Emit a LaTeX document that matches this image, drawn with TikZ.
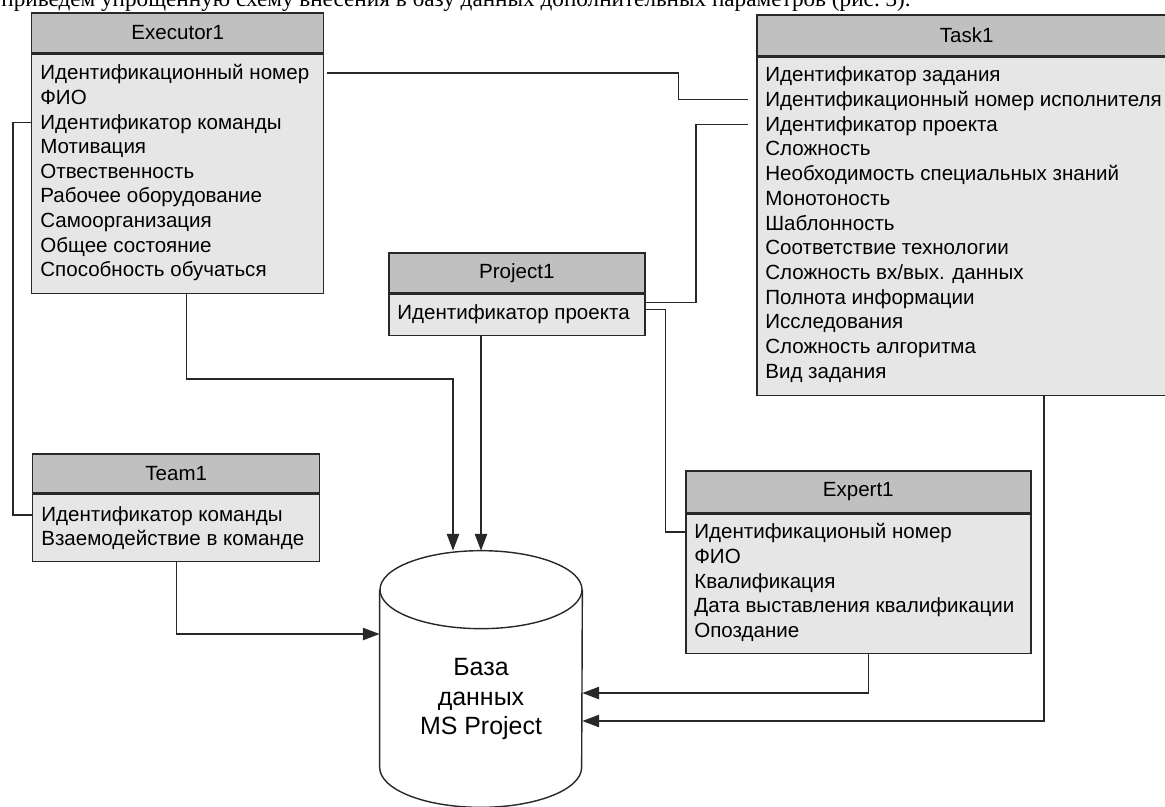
\documentclass[tikz,border=0pt]{standalone}
\usepackage{fontspec}
\setmainfont{Liberation Sans}
\newfontfamily\bodyserif{Liberation Serif}
\usetikzlibrary{calc,arrows.meta}
\newlength{\unitpx}\setlength{\unitpx}{0.02cm}

\begin{document}
\begin{tikzpicture}[x=0.02cm, y=-0.02cm,
    every node/.style={font=\fontsize{11.7}{14}\selectfont},
    entityhead/.style={draw=outline, fill=headfill, line width=0.85pt, inner sep=0pt, anchor=north west},
    entitybody/.style={draw=outline, fill=bodyfill, line width=0.85pt, inner sep=0pt, anchor=north},
    field/.style={anchor=west, inner sep=0pt, text height=8.8pt, text depth=1pt},
    wire/.style={draw=outline, line width=0.8pt},
    feed/.style={wire, -{Triangle[length=9.5pt, width=7pt]}}]
        \definecolor{headfill}{RGB}{192,192,192}
        \definecolor{bodyfill}{RGB}{230,230,230}
        \definecolor{outline}{RGB}{40,40,40}
        \useasboundingbox (0,0) rectangle (1165,806);
        \clip (0,0) rectangle (1165,806);
        % line of the page text above the figure
        \node[anchor=base west, inner sep=0pt, font=\bodyserif\fontsize{13.2}{15}\selectfont] (pagetext) at (1,6)
          {приведем упрощенную схему внесения в базу данных дополнительных параметров (рис.~3).};
        % Executor1
        \node[entityhead, minimum width=292\unitpx, minimum height=40\unitpx] (exh) at (31,12) {Executor1};
        \node[entitybody, minimum width=292\unitpx, minimum height=239\unitpx] (exb) at (exh.south) {};
        \foreach \f [count=\i] in {Идентификационный номер, ФИО, Идентификатор команды, Мотивация,
            Отвественность, Рабочее оборудование, Самоорганизация, Общее состояние, Способность обучаться}
          \node[field] (ex\i) at (40,{73+24.6*(\i-1)}) {\f};
        % Task1
        \node[entityhead, minimum width=420\unitpx, minimum height=41\unitpx] (tkh) at (756,14) {Task1};
        \node[entitybody, minimum width=420\unitpx, minimum height=338\unitpx] (tkb) at (tkh.south) {};
        \foreach \f [count=\i] in {Идентификатор задания, Идентификационный номер исполнителя,
            Идентификатор проекта, Сложность, Необходимость специальных знаний, Монотоность,
            Шаблонность, Соответствие технологии, Сложность вх/вых. данных, Полнота информации,
            Исследования, Сложность алгоритма, Вид задания}
          \node[field] (tk\i) at (765,{75+24.7*(\i-1)}) {\f};
        % Project1
        \node[entityhead, minimum width=256\unitpx, minimum height=40\unitpx] (prh) at (388,252) {Project1};
        \node[entitybody, minimum width=256\unitpx, minimum height=41\unitpx] (prb) at (prh.south) {};
        \node[field] (pr1) at (397,313) {Идентификатор проекта};
        % Team1
        \node[entityhead, minimum width=287\unitpx, minimum height=39\unitpx] (tmh) at (32,453) {Team1};
        \node[entitybody, minimum width=287\unitpx, minimum height=67\unitpx] (tmb) at (tmh.south) {};
        \foreach \f [count=\i] in {Идентификатор команды, Взаемодействие в команде}
          \node[field] (tm\i) at (41,{515+24*(\i-1)}) {\f};
        % Expert1
        \node[entityhead, minimum width=345\unitpx, minimum height=42\unitpx] (xph) at (685,470) {Expert1};
        \node[entitybody, minimum width=345\unitpx, minimum height=139\unitpx] (xpb) at (xph.south) {};
        \foreach \f [count=\i] in {Идентификационый номер, ФИО, Квалификация,
            Дата выставления квалификации, Опоздание}
          \node[field] (xp\i) at (694,{532+24.6*(\i-1)}) {\f};
        % database
        \node[minimum width=202\unitpx, minimum height=256\unitpx, inner sep=0pt] (db) at (481,679) {};
        \draw[wire, fill=white] ($(db.north west)+(0,39)$) -- ($(db.south west)+(0,-40)$)
          arc[start angle=180, end angle=360, x radius=101\unitpx, y radius=40\unitpx]
          -- ($(db.north east)+(0,39)$);
        \draw[wire, fill=white] ($(db.north)+(0,39)$) ellipse [x radius=101\unitpx, y radius=39\unitpx];
        \node[align=center, font=\fontsize{14.2}{16.8}\selectfont] (dbtext) at (481,699) {База\\данных\\MS Project};
        % links between the tables
        \draw[wire, shorten <=1.7pt, shorten >=4.5pt] (ex1 -| exb.east) -- ++(354,0) |- (tk2 -| tkb.west);
        \draw[wire] (ex3 -| exb.west) -- ++(-18,0) |- (tm1 -| tmb.west);
        \draw[wire, shorten <=4.5pt] (tk3 -| tkb.west) -- ++(-60,0) |- ($(prb.east)+(0,-12)$);
        \draw[wire] ($(prb.east)+(0,-5)$) -- ++(20,0) |- (xp1 -| xpb.west);
        % flows into the database
        \draw[feed] ($(exb.south)+(9,0)$) -- ++(0,85) -| ($(db.north)+(-28,0)$);
        \draw[feed] (prb.south -| db.north) -- (db.north);
        \draw[feed] (tmb.south) |- ($(db.west)+(0,-45)$);
        \draw[feed] ($(xpb.south)+(10,0)$) |- ($(db.east)+(0,14)$);
        \draw[feed] ($(tkb.south west)+(288,0)$) |- ($(db.east)+(0,42)$);
      \end{tikzpicture}
\end{document}
